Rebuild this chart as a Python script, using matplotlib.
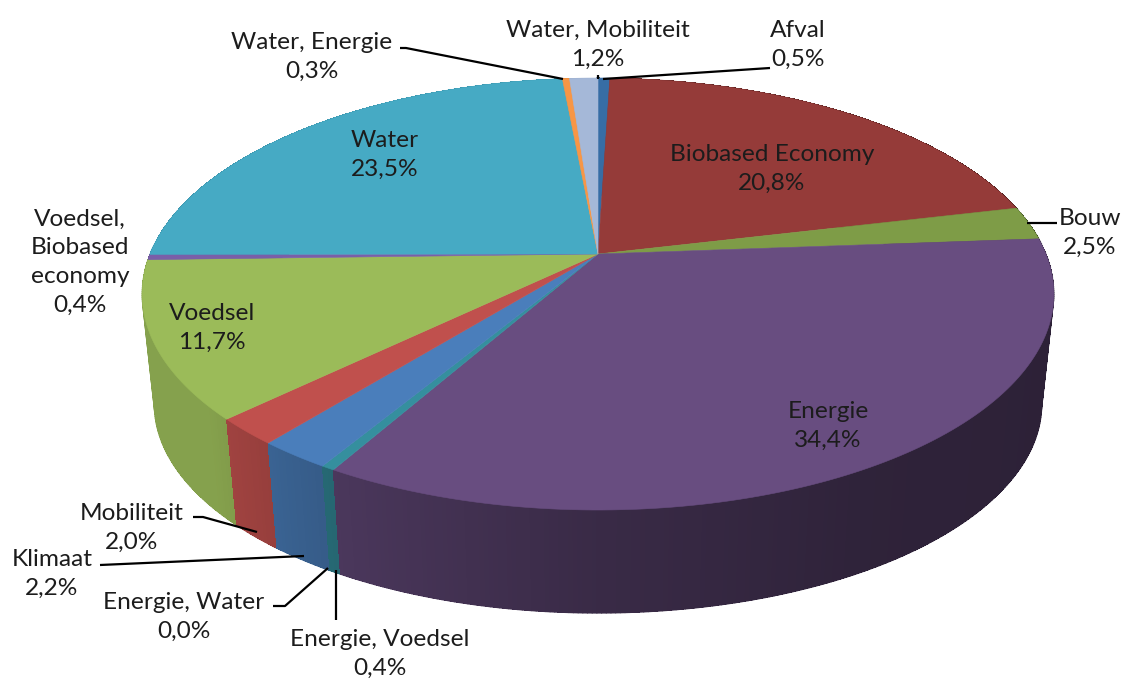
import numpy as np
import matplotlib
matplotlib.use('Agg')
import matplotlib.pyplot as plt

names = ['Afval', 'Biobased Economy', 'Bouw', 'Energie', 'Energie, Voedsel', 'Energie, Water',
         'Klimaat', 'Mobiliteit', 'Voedsel', 'Voedsel,\nBiobased\neconomy', 'Water',
         'Water, Energie', 'Water, Mobiliteit']
values = [0.5, 20.8, 2.5, 34.4, 0.4, 0.0, 2.2, 2.0, 11.7, 0.4, 23.5, 0.3, 1.2]
colors = ['#376da5', '#953b39', '#7e9c47', '#684d80', '#358f9e', '#e08a3c', '#4a7ebb',
          '#c0504d', '#9bbb59', '#7a5fa8', '#46aac4', '#f79646', '#a5b8d8']

# label centres in pixels, same order as names
label_x = [798, 772, 1090, 828, 380, 184, 52, 132, 212, 80, 385, 312, 598]
label_y = [45, 169, 233, 426, 654, 617, 574, 528, 328, 262, 155, 57, 45]

# leader lines in pixels
leaders = [
    [(770, 68), (603, 79)],
    [(1057, 223), (1027, 223)],
    [(336, 620), (336, 570)],
    [(273, 606), (285, 606), (328, 568)],
    [(100, 565), (304, 556)],
    [(193, 517), (203, 517), (257, 532)],
    [(400, 48), (406, 48), (563, 79)],
    [(598, 75), (598, 79)],
]

# wall shading against the clockwise angle from the top
shade_angle = [0, 90, 150, 180, 210, 230, 260, 360]
shade_value = [0.5, 0.42, 0.45, 0.55, 0.72, 0.86, 0.86, 0.86]

CX = 598
K = 0.1852


def project(ang, r, cy, rx, ry):
    # perspective view of a flat disc, ang in degrees clockwise from the top
    a = np.radians(ang)
    u = r * np.sin(a)
    v = r * np.cos(a)
    s = 1 / (1 + K * v)
    return CX + rx * u * s, cy - ry * v * s


def top(ang, r=1.0):
    return project(ang, r, 254, 448, 208.6)


def bottom(ang):
    return project(ang, 1.0, 365, 436, 202)


fig = plt.figure(figsize=(11.23, 6.8), dpi=100)
ax = fig.add_axes([0, 0, 1, 1])
ax.set_xlim(0, 1123)
ax.set_ylim(680, 0)
ax.axis('off')

edges = np.concatenate([[0], np.cumsum(values)]) / sum(values) * 360

# side wall, far pieces first
quads = []
for i in range(len(values)):
    if values[i] == 0:
        continue
    steps = max(2, int((edges[i + 1] - edges[i]) / 0.5))
    angs = np.linspace(edges[i], edges[i + 1], steps + 1)
    for a0, a1 in zip(angs[:-1], angs[1:]):
        mid = (a0 + a1) / 2
        quads.append((np.cos(np.radians(mid)), a0, a1, mid, colors[i]))
quads.sort(key=lambda q: -q[0])

for _, a0, a1, mid, col in quads:
    f = np.interp(mid, shade_angle, shade_value)
    rgb = np.array(matplotlib.colors.to_rgb(col)) * f
    x0, y0 = top(a0)
    x1, y1 = top(a1)
    x2, y2 = bottom(a1)
    x3, y3 = bottom(a0)
    # no antialias here or the seams show up as stripes, the rim line smooths the edge
    ax.fill([x0, x1, x2, x3], [y0, y1, y2, y3], color=rgb, lw=0, antialiased=False, zorder=2)
    ax.plot([x3, x2], [y3, y2], color=rgb, lw=1.0, solid_capstyle='round', zorder=2)
    if np.sin(np.radians(mid)) ** 2 > 0.95:
        ax.plot([x0, x3], [y0, y3], color=rgb, lw=0.8, zorder=2)

# top face
for i in range(len(values)):
    if values[i] == 0:
        continue
    angs = np.linspace(edges[i], edges[i + 1], 120)
    x, y = top(angs)
    cx0, cy0 = top(0.0, 0.0)
    ax.fill(np.r_[cx0, x], np.r_[cy0, y], color=colors[i], lw=0.4, zorder=3)

for pts in leaders:
    ax.plot([p[0] for p in pts], [p[1] for p in pts], color='black', lw=1.6, zorder=4,
            solid_capstyle='butt')

for name, val, lx, ly in zip(names, values, label_x, label_y):
    txt = name + '\n' + f'{val:.1f}%'.replace('.', ',')
    ax.text(lx, ly, txt, ha='center', va='center', family='Lato', fontsize=17.6,
            color='#1c1c1c', linespacing=1.45, zorder=5)

fig.savefig('out.png', dpi=100)
